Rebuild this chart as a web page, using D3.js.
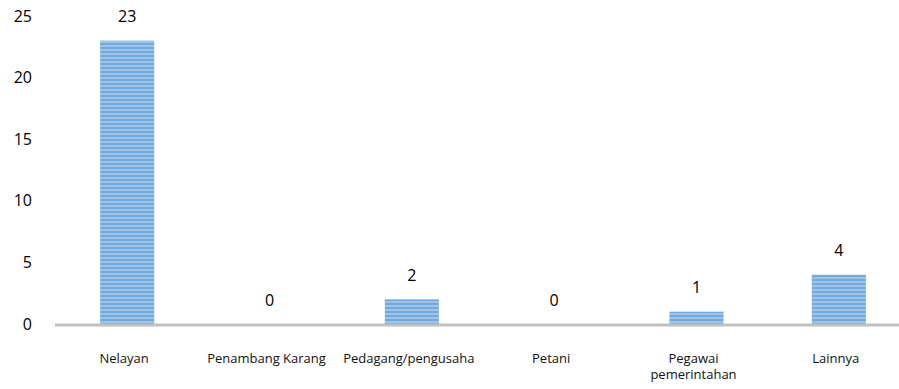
<!DOCTYPE html>
<html>
<head>
    <title>Pekerjaan</title>
    <script src="https://d3js.org/d3.v7.min.js"></script>
    <style>
        body {
            margin: 0;
            background: #fff;
            font-family: "Open Sans", Arial, sans-serif;
        }
        .tick-label { font-size: 16px; fill: #000; }
        .value-label { font-size: 16px; fill: #000; }
        .cat-label { font-size: 13px; fill: #111; }
    </style>
</head>
<body>
    <div id="chart"></div>

    <script>
        // Chart data
        const categories = [['Nelayan'], ['Penambang Karang'], ['Pedagang/pengusaha'], ['Petani'], ['Pegawai', 'pemerintahan'], ['Lainnya']];
        const values = [23, 0, 2, 0, 1, 4];
        const yTicks = [0, 5, 10, 15, 20, 25];

        const width = 899;
        const height = 389;

        const svg = d3.select('#chart')
            .append('svg')
            .attr('width', width)
            .attr('height', height);

        // Striped fill for bars
        const defs = svg.append('defs');
        const grad = defs.append('linearGradient')
            .attr('id', 'stripeGrad')
            .attr('x1', 0).attr('y1', 0).attr('x2', 0).attr('y2', 1);
        grad.append('stop').attr('offset', '0%').attr('stop-color', '#5b9bd5');
        grad.append('stop').attr('offset', '50%').attr('stop-color', '#b4d2ee');
        grad.append('stop').attr('offset', '100%').attr('stop-color', '#5b9bd5');

        const pattern = defs.append('pattern')
            .attr('id', 'stripes')
            .attr('patternUnits', 'userSpaceOnUse')
            .attr('width', 8)
            .attr('height', 4);
        pattern.append('rect')
            .attr('width', 8)
            .attr('height', 4)
            .attr('fill', 'url(#stripeGrad)');

        // Scales
        const x = d3.scaleBand()
            .domain(d3.range(categories.length))
            .range([56, 910])
            .paddingInner(0.62)
            .paddingOuter(0.31);

        const y = d3.scaleLinear()
            .domain([0, 25])
            .range([324, 16]);

        // Y tick labels
        svg.append('g')
            .selectAll('text')
            .data(yTicks)
            .join('text')
            .attr('class', 'tick-label')
            .attr('x', 32)
            .attr('y', d => y(d))
            .attr('dy', '0.35em')
            .attr('text-anchor', 'end')
            .text(d => d);

        // Bars
        svg.append('g')
            .selectAll('rect')
            .data(values)
            .join('rect')
            .attr('x', (d, i) => x(i))
            .attr('y', d => y(d))
            .attr('width', x.bandwidth())
            .attr('height', d => y(0) - y(d))
            .attr('fill', 'url(#stripes)');

        // X axis line
        svg.append('line')
            .attr('x1', 55)
            .attr('x2', width)
            .attr('y1', y(0) + 1)
            .attr('y2', y(0) + 1)
            .attr('stroke', '#c0c0c0')
            .attr('stroke-width', 3);

        // Value labels
        svg.append('g')
            .selectAll('text')
            .data(values)
            .join('text')
            .attr('class', 'value-label')
            .attr('x', (d, i) => x(i) + x.bandwidth() / 2)
            .attr('y', d => y(d) - 24)
            .attr('dy', '0.35em')
            .attr('text-anchor', 'middle')
            .text(d => d);

        // Category labels
        const cats = svg.append('g')
            .selectAll('text')
            .data(categories)
            .join('text')
            .attr('class', 'cat-label')
            .attr('x', (d, i) => x(i) + x.bandwidth() / 2 - 3)
            .attr('y', 358)
            .attr('text-anchor', 'middle');

        cats.selectAll('tspan')
            .data(d => d)
            .join('tspan')
            .attr('x', function() { return this.parentNode.getAttribute('x'); })
            .attr('dy', (d, j) => j === 0 ? '0.35em' : '1.3em')
            .text(d => d);
    </script>
</body>
</html>
